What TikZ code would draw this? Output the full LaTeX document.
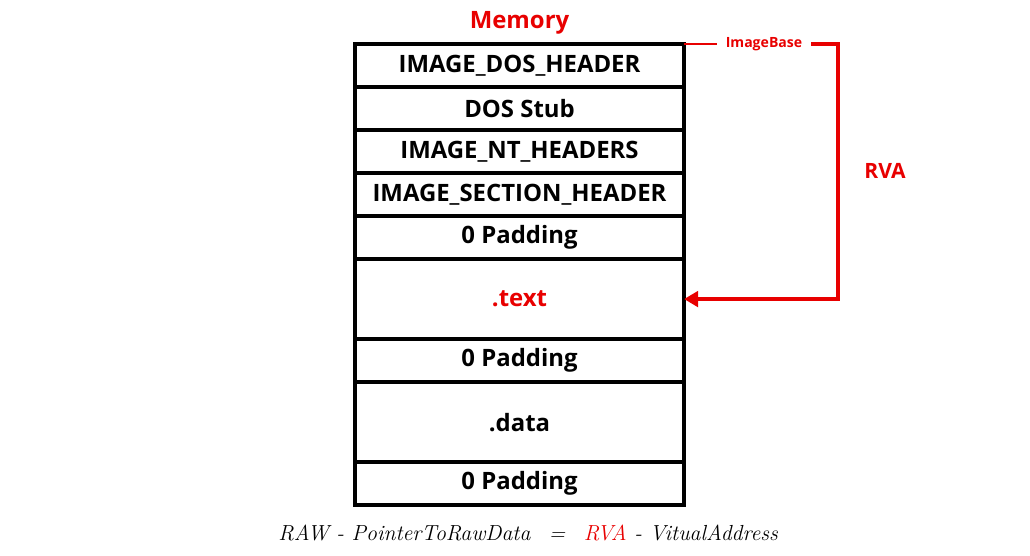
\documentclass[tikz,border=0pt]{standalone}
\usepackage{fontspec}
\setsansfont{Open Sans}
\usetikzlibrary{positioning,arrows.meta}
\definecolor{memred}{RGB}{232,0,0}
\tikzset{
  sect/.style={draw,line width=2.8pt,outer sep=0pt,inner sep=0pt,
    minimum width=8.225cm,minimum height=1.075cm,
    font=\sffamily\bfseries\fontsize{17}{20}\selectfont},
  bigsect/.style={sect,minimum height=2cm},
  rvaline/.style={memred,line width=2.6pt}
}
\begin{document}
\begin{tikzpicture}[x=0.025cm,y=-0.025cm]
  \useasboundingbox (0,0) rectangle (1030,556);

  % Title
  \node[memred,font=\sffamily\bfseries\fontsize{17}{20}\selectfont] (title) at (519.5,23) {Memory};

  % Sections, top to bottom
  \node[sect,anchor=north] (dos) at (519.5,44) {IMAGE\_DOS\_HEADER};
  \node[sect,below=0pt of dos] (stub) {DOS Stub};
  \node[sect,below=0pt of stub] (nt) {IMAGE\_NT\_HEADERS};
  \node[sect,below=0pt of nt] (sechdr) {IMAGE\_SECTION\_HEADER};
  \node[sect,below=0pt of sechdr] (pad1) {0 Padding};
  \node[bigsect,below=0pt of pad1,text=memred] (text) {.text};
  \node[sect,below=0pt of text] (pad2) {0 Padding};
  \node[bigsect,below=0pt of pad2] (data) {.data};
  \node[sect,below=0pt of data] (pad3) {0 Padding};

  % ImageBase -> .text
  \node[memred,font=\sffamily\bfseries\fontsize{10}{12}\selectfont,inner xsep=0.22cm] (imgbase) at (764,44) {ImageBase};
  \draw[memred,line width=1pt] (dos.north east) -- (imgbase.west);
  \coordinate (bend) at (838,44);
  \draw[rvaline,-{Triangle[length=10pt,width=11pt]}] (imgbase.east) -- (bend) |- (text.east);
  \node[memred,font=\sffamily\bfseries\fontsize{15}{18}\selectfont] (rva) at (885,171) {RVA};

  % Formula
  \node[font=\itshape\fontsize{15.5}{18}\selectfont] (formula) at (528,533)
    {RAW - PointerToRawData \enspace= \enspace\textcolor{memred}{RVA} - VitualAddress};
\end{tikzpicture}
\end{document}
